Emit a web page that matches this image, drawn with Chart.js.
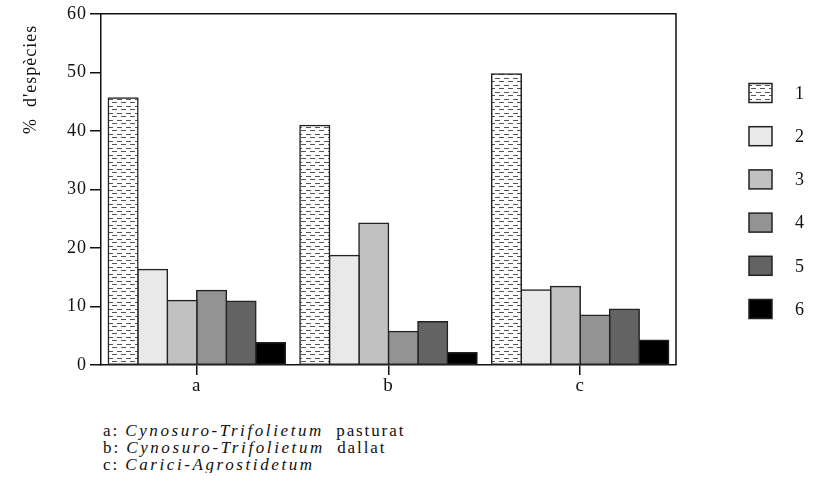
<!DOCTYPE html>
<html>
<head>
<meta charset="utf-8">
<script src="https://cdn.jsdelivr.net/npm/chart.js@4"></script>
<style>
  body { margin: 0; background: #fff; }
  #wrap { width: 818px; height: 400px; position: relative; }
  .caption {
    font-family: "Liberation Serif", "Times New Roman", serif;
    font-size: 17px; letter-spacing: 1.9px; line-height: 17px;
    margin: 22px 0 0 103px; color: #111;
  }
  .caption i { letter-spacing: 2.6px; }
</style>
</head>
<body>
<div id="wrap"><canvas id="chart"></canvas></div>
<div class="caption">
  <div>a: <i>Cynosuro-Trifolietum</i>&nbsp; pasturat</div>
  <div>b: <i>Cynosuro-Trifolietum</i>&nbsp; dallat</div>
  <div>c: <i>Carici-Agrostidetum</i></div>
</div>
<script>
const categories = ["a", "b", "c"];
const seriesNames = ["1", "2", "3", "4", "5", "6"];
const serie1 = [45.6, 40.9, 49.7];
const serie2 = [16.3, 18.7, 12.8];
const serie3 = [11.0, 24.2, 13.4];
const serie4 = [12.7, 5.7, 8.5];
const serie5 = [10.9, 7.4, 9.5];
const serie6 = [3.8, 2.1, 4.2];

const FONT = "Liberation Serif";

// dashed hatch for serie 1
const makeHatch = () => {
  const c = document.createElement("canvas");
  c.width = 9;
  c.height = 7;
  const g = c.getContext("2d");
  g.fillStyle = "#fff";
  g.fillRect(0, 0, 9, 7);
  g.fillStyle = "#555";
  g.fillRect(0, 1, 5, 1);
  g.fillRect(4, 4, 5, 1);
  return g.createPattern(c, "repeat");
};

const fills = [makeHatch(), "#e9e9e9", "#c1c1c1", "#939393", "#636363", "#000000"];
const values = [serie1, serie2, serie3, serie4, serie5, serie6];

const spacing = {
  id: "spacing",
  beforeDraw(chart) {
    chart.ctx.letterSpacing = "1px";
  },
};

const frame = {
  id: "frame",
  afterDraw(chart) {
    const { ctx, chartArea: a } = chart;
    ctx.save();
    ctx.strokeStyle = "#111";
    ctx.lineWidth = 1.5;
    ctx.beginPath();
    ctx.moveTo(a.left, a.top);
    ctx.lineTo(a.right, a.top);
    ctx.lineTo(a.right, a.bottom);
    ctx.stroke();
    ctx.restore();
  },
};

const sideLegend = {
  id: "sideLegend",
  afterDraw(chart) {
    const ctx = chart.ctx;
    ctx.save();
    ctx.font = "18px " + FONT;
    ctx.textBaseline = "middle";
    chart.data.datasets.forEach((ds, i) => {
      const y = 93 + i * 43.2;
      ctx.fillStyle = ds.backgroundColor;
      ctx.fillRect(749, y - 9.5, 23, 19);
      ctx.strokeStyle = "#222";
      ctx.lineWidth = 1.5;
      ctx.strokeRect(749, y - 9.5, 23, 19);
      ctx.fillStyle = "#111";
      ctx.fillText(ds.label, 795, y + 1);
    });
    ctx.restore();
  },
};

const ctx = document.getElementById("chart");

new Chart(ctx, {
  type: "bar",
  data: {
    labels: categories,
    datasets: values.map((v, i) => ({
      label: seriesNames[i],
      data: v,
      backgroundColor: fills[i],
      borderColor: "#222",
      borderWidth: 1.5,
      borderSkipped: false,
      inflateAmount: 0.8,
      categoryPercentage: 0.923,
      barPercentage: 1.0,
    })),
  },
  options: {
    responsive: true,
    maintainAspectRatio: false,
    animation: false,
    layout: { padding: { top: 12, right: 142, left: 10, bottom: 0 } },
    plugins: {
      legend: { display: false },
      tooltip: { enabled: false },
    },
    scales: {
      x: {
        grid: { display: true, drawOnChartArea: false, offset: false, color: "#111", tickLength: 10, lineWidth: 1.5 },
        border: { display: true, color: "#111", width: 1.5 },
        ticks: { color: "#111", font: { family: FONT, size: 19 }, padding: 0 },
        afterFit: (scale) => { scale.height = 35; },
      },
      y: {
        min: 0,
        max: 60,
        ticks: { stepSize: 10, color: "#111", font: { family: FONT, size: 18 }, padding: 3 },
        grid: { display: true, drawOnChartArea: false, color: "#111", tickLength: 11, lineWidth: 1.5 },
        border: { display: true, color: "#111", width: 1.5 },
        title: {
          display: true,
          text: "%  d'espècies  ",
          align: "end",
          color: "#111",
          font: { family: FONT, size: 18 },
          padding: { top: 10, bottom: 0 },
        },
        afterFit: (scale) => { scale.width = 91; },
      },
    },
  },
  plugins: [spacing, frame, sideLegend],
});
</script>
</body>
</html>
